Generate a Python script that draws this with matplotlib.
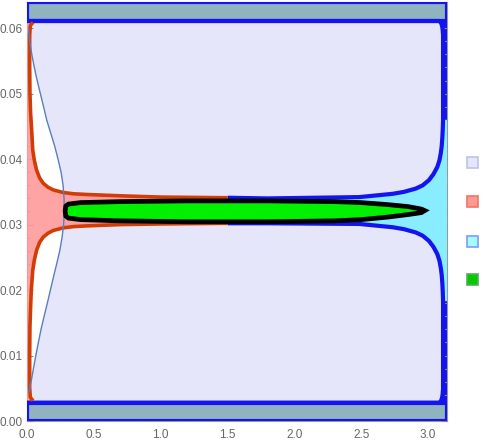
import numpy as np
import matplotlib
matplotlib.use('Agg')
import matplotlib.pyplot as plt
from matplotlib.patches import Polygon, Rectangle
from matplotlib.ticker import MultipleLocator, FormatStrFormatter

x_max = np.pi
y_max = 0.064
band_hi = 0.0611   # lower edge of the top band
band_lo = 0.0028   # upper edge of the bottom band
right_edge = 3.112

# thin boundary of the large region on the left (x read at each y)
thin_y = [0.0600, 0.0590, 0.0577, 0.0561, 0.0545, 0.0530, 0.0515, 0.0500, 0.0480, 0.0460, 0.0440,
          0.0420, 0.0400, 0.0380, 0.0360, 0.0340, 0.0322, 0.0300, 0.0280, 0.0260, 0.0240, 0.0220,
          0.0200, 0.0180, 0.0160, 0.0140, 0.0120, 0.0100, 0.0080, 0.0065, 0.0055, 0.0045]
thin_x = [0.012, 0.016, 0.022, 0.035, 0.050, 0.065, 0.082, 0.100, 0.124, 0.147, 0.177,
          0.207, 0.232, 0.255, 0.270, 0.277, 0.279, 0.274, 0.262, 0.245, 0.222, 0.198,
          0.175, 0.152, 0.128, 0.105, 0.085, 0.066, 0.048, 0.035, 0.025, 0.016]

# red region boundary: left strip + horn + channel
red_up_x = [0.045, 0.025, 0.020, 0.020, 0.022, 0.027, 0.035, 0.043, 0.055, 0.072, 0.095, 0.122,
            0.158, 0.196, 0.271, 0.350, 0.445, 0.694, 1.000, 1.500]
red_up_y = [0.0609, 0.0604, 0.0590, 0.0540, 0.0500, 0.0470, 0.0444, 0.0414, 0.0398, 0.0383, 0.0371, 0.0363,
            0.0357, 0.0353, 0.0349, 0.0347, 0.0346, 0.0344, 0.0342, 0.0341]
red_lo_x = [0.045, 0.025, 0.020, 0.020, 0.022, 0.027, 0.032, 0.043, 0.055, 0.072, 0.095, 0.122,
            0.158, 0.196, 0.271, 0.350, 0.445, 0.694, 1.000, 1.500]
red_lo_y = [0.0031, 0.0036, 0.0050, 0.0100, 0.0144, 0.0174, 0.0200, 0.0230, 0.0246, 0.0261, 0.0273, 0.0281,
            0.0287, 0.0291, 0.0295, 0.0297, 0.0298, 0.0300, 0.0301, 0.0302]

# blue boundary: channel + right horn
horn_x = [1.50, 1.80, 2.485, 2.734, 2.820, 2.908, 2.960, 3.007, 3.040, 3.069, 3.085, 3.095, 3.102, 3.107, 3.110, 3.112]
horn_up_y = [0.0341, 0.0340, 0.0342, 0.0347, 0.0350, 0.0355, 0.0360, 0.0368, 0.0377, 0.0388, 0.0398, 0.0409,
             0.0420, 0.0434, 0.0447, 0.0460]
horn_lo_y = [0.0302, 0.0302, 0.0301, 0.0296, 0.0293, 0.0288, 0.0283, 0.0275, 0.0266, 0.0255, 0.0245, 0.0234,
             0.0223, 0.0209, 0.0196, 0.0183]
# blue boundary: right edge -> rounded corner -> band line
edge_x = [3.112, 3.112, 3.108, 3.100, 3.085, 0.0]
edge_up_y = [0.0460, 0.0590, 0.0600, 0.0607, 0.0611, 0.0611]
edge_lo_y = [0.0183, 0.0049, 0.0039, 0.0032, 0.0028, 0.0028]

# green lens
lens_up_x = [0.285, 0.29, 0.31, 0.40, 0.70, 1.20, 1.80, 2.30, 2.50, 2.70, 2.85, 2.95, 2.975]
lens_up_y = [0.03206, 0.03282, 0.03313, 0.03336, 0.03351, 0.03362, 0.03362, 0.03351, 0.03336, 0.03305, 0.03275, 0.03237, 0.03214]
lens_lo_x = [2.95, 2.85, 2.70, 2.50, 2.30, 1.80, 1.20, 0.70, 0.40, 0.31, 0.29]
lens_lo_y = [0.03183, 0.03153, 0.03115, 0.03076, 0.03057, 0.03043, 0.03043, 0.03057, 0.03076, 0.03099, 0.03130]

lavender = '#E6E6FA'
salmon = '#FF9A9A'
red_line = '#D23C05'
cyan = '#88EEFF'
blue = '#1414F0'
band_col = '#90B4BF'
green = '#00F000'
thin_col = '#5A7EC0'

fig = plt.figure(figsize=(4.91, 4.43), dpi=100)
ax = fig.add_axes([27 / 491, 22 / 443, 420 / 491, 419 / 443])
ax.set_xlim(0, x_max)
ax.set_ylim(0, y_max)

# big lavender region
lav = [(0.02, band_hi)] + list(zip(thin_x, thin_y)) + [(0.02, band_lo), (right_edge, band_lo), (right_edge, band_hi)]
ax.add_patch(Polygon(lav, closed=True, facecolor=lavender, edgecolor='none', zorder=1))

# blue strip along the right frame
ax.add_patch(Rectangle((right_edge, 0), x_max - right_edge, y_max, facecolor=blue, edgecolor='none', zorder=1.5))

# red region
red_poly = [(0, band_hi)] + list(zip(red_up_x, red_up_y)) + list(zip(red_lo_x, red_lo_y))[::-1] + [(0, band_lo)]
ax.add_patch(Polygon(red_poly, closed=True, facecolor=salmon, edgecolor='none', alpha=0.9, zorder=2))

# cyan region
cyan_poly = list(zip(horn_x, horn_up_y)) + [(x_max, horn_up_y[-1]), (x_max, horn_lo_y[-1])] \
    + list(zip(horn_x, horn_lo_y))[::-1]
ax.add_patch(Polygon(cyan_poly, closed=True, facecolor=cyan, edgecolor='none', zorder=2))

# bands
for y0, y1 in [(band_hi, y_max), (0, band_lo)]:
    ax.add_patch(Rectangle((0, y0), x_max, y1 - y0, facecolor=band_col, edgecolor=blue, lw=3, zorder=4))

# boundary lines
for ys, ey in [(horn_up_y, edge_up_y), (horn_lo_y, edge_lo_y)]:
    ax.plot(horn_x + edge_x[1:], ys + ey[1:], color=blue, lw=3, zorder=5,
            solid_capstyle='butt', solid_joinstyle='round')
ax.plot(red_up_x, red_up_y, color=red_line, lw=2.6, zorder=6, solid_capstyle='butt', solid_joinstyle='round')
ax.plot(red_lo_x, red_lo_y, color=red_line, lw=2.6, zorder=6, solid_capstyle='butt', solid_joinstyle='round')
ax.plot(thin_x, thin_y, color=thin_col, lw=1.0, zorder=6)

# green lens
lens = list(zip(lens_up_x, lens_up_y)) + list(zip(lens_lo_x, lens_lo_y))
ax.add_patch(Polygon(lens, closed=True, facecolor=green, edgecolor='black', lw=3.4, zorder=7))

# frame and ticks
for s in ax.spines.values():
    s.set_color('#999999')
    s.set_zorder(0)
ax.xaxis.set_major_locator(MultipleLocator(0.5))
ax.xaxis.set_minor_locator(MultipleLocator(0.1))
ax.yaxis.set_major_locator(MultipleLocator(0.01))
ax.yaxis.set_minor_locator(MultipleLocator(0.002))
ax.xaxis.set_major_formatter(FormatStrFormatter('%.1f'))
ax.yaxis.set_major_formatter(FormatStrFormatter('%.2f'))
ax.tick_params(which='both', direction='in', top=True, right=True, color='#888888',
               labelcolor='#666666', labelsize=8.5, width=0.8)
ax.tick_params(which='major', length=4)
ax.tick_params(which='minor', length=2.2)
ax.tick_params(axis='x', pad=6)
ax.tick_params(axis='y', pad=3)
for lab in ax.get_xticklabels() + ax.get_yticklabels():
    lab.set_fontfamily('Liberation Sans')

# legend swatches without labels
swatches = [(lavender, '#BCC4E8'), ('#FF9A90', '#F07468'), ('#A0FFFF', '#8298FF'), ('#00CC00', '#5AAA5A')]
centers = [162.7, 201.7, 241.0, 279.3]
for (fc, ec), cy in zip(swatches, centers):
    fig.add_artist(Rectangle((467 / 491, 1 - (cy + 5.5) / 443), 11 / 491, 11 / 443,
                             facecolor=fc, edgecolor=ec, lw=1.2, transform=fig.transFigure))

fig.savefig('out.png', dpi=100)
